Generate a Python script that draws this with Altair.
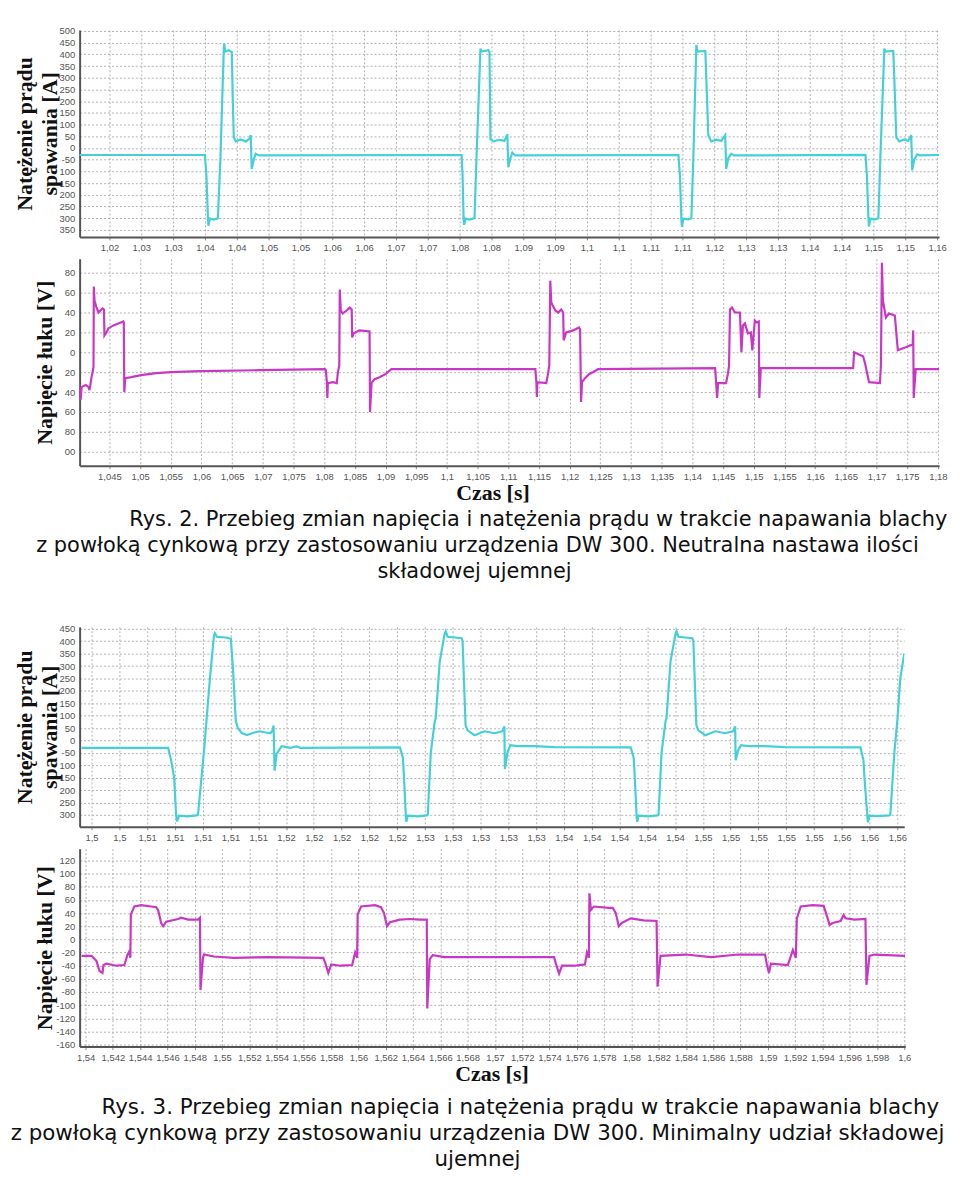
import json
import altair as alt
import pandas as pd

# ---------------- data ----------------
# Rys. 2 - welding current [A]
I1_T = [1.015156, 1.035, 1.035234, 1.035469, 1.035547, 1.035781, 1.036406, 1.037031, 1.037422, 1.037969, 1.038016, 1.038203, 1.03875, 1.039219, 1.039375, 1.039531, 1.039844, 1.040625, 1.041406, 1.042031, 1.042188, 1.042344, 1.042656, 1.042969, 1.043438,
        1.075313, 1.075469, 1.075625, 1.075703, 1.075938, 1.076563, 1.077344, 1.077656, 1.078281, 1.078438, 1.079531, 1.079688, 1.079844, 1.080313, 1.08125, 1.082031, 1.0825, 1.082656, 1.082969, 1.083281, 1.08375,
        1.109375, 1.109609, 1.109844, 1.109922, 1.110156, 1.110938, 1.111406, 1.111719, 1.112188, 1.112344, 1.113594, 1.11375, 1.114063, 1.114531, 1.115313, 1.116094, 1.116719, 1.116875, 1.117188, 1.117656, 1.118125,
        1.13875, 1.138984, 1.139219, 1.139297, 1.139531, 1.140156, 1.140781, 1.141094, 1.141719, 1.141875, 1.143125, 1.143281, 1.143594, 1.144063, 1.144844, 1.145469, 1.145938, 1.146094, 1.146406, 1.146875, 1.147344, 1.150313]
I1_V = [-30, -30, -120, -300, -332, -302, -306, -300, -50, 430, 445, 412, 418, 410, 200, 45, 28, 36, 28, 40, 55, -90, -50, -25, -32,
        -30, -120, -300, -329, -302, -306, -300, -38, 425, 412, 418, 410, 37, 28, 35, 30, 58, -82, -45, -20, -32,
        -30, -120, -310, -337, -302, -305, -300, -38, 440, 412, 415, 300, 54, 28, 35, 30, 55, -90, -45, -25, -32,
        -30, -120, -300, -335, -302, -306, -300, -38, 425, 412, 415, 300, 45, 28, 36, 30, 55, -95, -50, -27, -32, -30]

# Rys. 2 - arc voltage [V]
U1_T = [1.039984, 1.040146, 1.040308, 1.040469, 1.041117, 1.041602, 1.041764, 1.042087, 1.042249, 1.042411, 1.04246, 1.042573, 1.042896, 1.04322, 1.043544, 1.043867, 1.04411, 1.044191, 1.044515, 1.044838, 1.045647, 1.046456, 1.047265, 1.047346, 1.047427, 1.047589, 1.04856, 1.050178, 1.052605, 1.055032, 1.059887, 1.069595, 1.080113,
        1.080275, 1.080436, 1.080517, 1.080598, 1.081407, 1.082054, 1.082216, 1.082459, 1.08254, 1.082702, 1.083025, 1.083673, 1.084158, 1.084482, 1.084563, 1.084805, 1.085776, 1.087394, 1.087475, 1.087718, 1.088203, 1.089012, 1.089983, 1.090954, 1.114416,
        1.114578, 1.114659, 1.11474, 1.116196, 1.11652, 1.116682, 1.116844, 1.117005, 1.117653, 1.118138, 1.118624, 1.118947, 1.119028, 1.119433, 1.120565, 1.121536, 1.121698, 1.12186, 1.122022, 1.122507, 1.123154, 1.123801, 1.124611, 1.143704,
        1.143866, 1.144028, 1.14419, 1.145484, 1.145808, 1.14597, 1.146131, 1.146455, 1.14694, 1.147749, 1.147992, 1.148235, 1.148558, 1.149044, 1.149529, 1.149772, 1.150177, 1.1505, 1.150824, 1.150905, 1.151147, 1.166196,
        1.166358, 1.166681, 1.167814, 1.168137, 1.168785, 1.170565, 1.170726, 1.170888, 1.17105, 1.171535, 1.172021, 1.172992, 1.173477, 1.174772, 1.175904, 1.175985, 1.176066, 1.17639, 1.1802]
U1_V = [-25, -45, -48, -35, -33, -35, -38, -25, -20, -15, 66, 52, 45, 40, 42, 44, 43, 17, 20, 24, 27, 29, 31, 30, -40, -26, -25, -23, -21, -20, -19, -18, -17,
        -18, -30, -46, -31, -30, -31, -21, -13, 63, 42, 39, 42, 45, 43, 15, 19, 22, 21, -60, -31, -27, -25, -22, -17, -17,
        -30, -45, -30, -31, -20, -13, 72, 50, 42, 40, 43, 40, 12, 20, 22, 25, 23, -50, -30, -26, -22, -20, -17, -16,
        -30, -46, -31, -31, -21, -14, 43, 45, 40, 40, 0, 27, 29, 19, 20, 2, 32, 30, 31, -46, -16, -16,
        0, -1, -4, -11, -30, -31, -13, 90, 52, 35, 39, 37, 2, 5, 8, 22, -46, -17, -17]

# Rys. 3 - welding current [A]
I2_T = [1.501284, 1.507513, 1.507728, 1.507943, 1.508086, 1.508158, 1.508301, 1.508874, 1.50959, 1.509661, 1.510091, 1.51052, 1.510807, 1.510878, 1.511022, 1.511666, 1.512024, 1.512167, 1.512382, 1.512525, 1.512812, 1.51317, 1.513599, 1.5141, 1.51453, 1.514888, 1.515031, 1.515103, 1.515174, 1.515318, 1.515676, 1.51632, 1.51675, 1.517036,
        1.524196, 1.524411, 1.524482, 1.524626, 1.524661, 1.524769, 1.525485, 1.526129, 1.526201, 1.526416, 1.526702, 1.526774, 1.52706, 1.527418, 1.52749, 1.527633, 1.528635, 1.528707, 1.528922, 1.529065, 1.529566, 1.530282, 1.530998, 1.531571, 1.531714, 1.53175, 1.531929, 1.532144, 1.532645, 1.533862, 1.535294,
        1.540807, 1.541022, 1.541094, 1.541237, 1.541273, 1.54138, 1.542096, 1.54274, 1.542812, 1.543027, 1.543313, 1.543385, 1.543671, 1.54403, 1.544101, 1.544244, 1.545246, 1.545318, 1.545533, 1.545676, 1.546177, 1.546893, 1.547609, 1.548182, 1.548325, 1.548361, 1.54854, 1.548755, 1.549256, 1.550473, 1.551905,
        1.557347, 1.557562, 1.557633, 1.557848, 1.557884, 1.557991, 1.558564, 1.559423, 1.559495, 1.559781, 1.559996, 1.560211, 1.560497]
I2_V = [-30, -30, -80, -150, -300, -326, -303, -306, -302, -300, -45, 250, 420, 432, 418, 415, 410, 300, 80, 50, 30, 22, 30, 37, 32, 30, 40, 60, -122, -55, -23, -30, -24, -30,
        -28, -70, -140, -310, -328, -303, -306, -302, -300, -51, 77, 89, 318, 430, 440, 418, 412, 400, 61, 41, 21, 37, 29, 37, 57, -115, -50, -19, -23, -23, -27,
        -28, -70, -140, -310, -328, -303, -306, -302, -300, -51, 77, 89, 318, 430, 440, 418, 412, 400, 61, 41, 21, 37, 29, 37, 57, -80, -39, -19, -23, -23, -27,
        -28, -80, -150, -310, -330, -303, -305, -302, -300, -51, 77, 250, 350]

# Rys. 3 - arc voltage [V]
U2_T = [1.539708, 1.540437, 1.540802, 1.541021, 1.541239, 1.541312, 1.541531, 1.54226, 1.542843, 1.543062, 1.543208, 1.543281, 1.543317, 1.543572, 1.544082, 1.544811, 1.545176, 1.545322, 1.54554, 1.545686, 1.545905, 1.54678, 1.546998, 1.547509, 1.548238, 1.548384, 1.54842, 1.548602, 1.548675, 1.549404, 1.550862, 1.553341, 1.557423,
        1.557569, 1.557788, 1.558006, 1.558662, 1.559537, 1.559756, 1.559902, 1.559938, 1.560193, 1.561214, 1.561651, 1.56187, 1.562089, 1.562307, 1.563036, 1.563765, 1.564494, 1.565005, 1.565041, 1.565223, 1.565442, 1.566317, 1.570326, 1.574336,
        1.574482, 1.5747, 1.574919, 1.575794, 1.576596, 1.576742, 1.576887, 1.576924, 1.577033, 1.577252, 1.578345, 1.578637, 1.578856, 1.579074, 1.579293, 1.579949, 1.580897, 1.581845, 1.581918, 1.582136, 1.583959, 1.585854, 1.587822, 1.589791,
        1.589937, 1.590082, 1.590228, 1.591467, 1.591832, 1.592051, 1.592124, 1.592415, 1.59329, 1.594092, 1.594311, 1.594529, 1.594748, 1.595331, 1.59555, 1.595696, 1.596352, 1.597154, 1.597227, 1.597445, 1.59781, 1.60007]
U2_V = [-25, -25, -33, -48, -51, -39, -37, -40, -39, -24, -18, -28, 38, 50, 52, 50, 49, 44, 25, 20, 27, 31, 33, 30, 30, 33, -77, -28, -23, -26, -28, -27, -28,
        -36, -51, -38, -40, -39, -20, -28, 38, 50, 52, 49, 40, 20, 26, 30, 31, 30, 30, -105, -30, -24, -27, -27, -27,
        -38, -52, -40, -40, -38, -20, -28, 70, 45, 50, 48, 48, 40, 20, 25, 32, 29, 28, -72, -25, -23, -27, -23, -23,
        -39, -51, -37, -39, -16, -28, 32, 50, 52, 51, 37, 22, 25, 28, 37, 32, 30, 31, -69, -25, -23, -25]

# ---------------- ticks and tick labels ----------------
P1_XTICKS = [1.020, 1.025, 1.030, 1.035, 1.040, 1.045, 1.050, 1.055, 1.060, 1.065, 1.070, 1.075, 1.080, 1.085,
             1.090, 1.095, 1.100, 1.105, 1.110, 1.115, 1.120, 1.125, 1.130, 1.135, 1.140, 1.145, 1.150]
P1_XLABELS = ["1,02", "1,03", "1,03", "1,04", "1,04", "1,05", "1,05", "1,06", "1,06", "1,07", "1,07", "1,08", "1,08", "1,09",
              "1,09", "1,1", "1,1", "1,11", "1,11", "1,12", "1,13", "1,13", "1,14", "1,14", "1,15", "1,15", "1,16"]
P1_YTICKS = [500, 450, 400, 350, 300, 250, 200, 150, 100, 50, 0, -50, -100, -150, -200, -250, -300, -350]
P1_YLABELS = ["500", "450", "400", "350", "300", "250", "200", "150", "100", "50", "0", "-50", "100", "150", "200", "250", "300", "350"]

P2_XTICKS = [1.045, 1.050, 1.055, 1.060, 1.065, 1.070, 1.075, 1.080, 1.085, 1.090, 1.095, 1.100, 1.105, 1.110,
             1.115, 1.120, 1.125, 1.130, 1.135, 1.140, 1.145, 1.150, 1.155, 1.160, 1.165, 1.170, 1.175, 1.180]
P2_XLABELS = ["1,045", "1,05", "1,055", "1,06", "1,065", "1,07", "1,075", "1,08", "1,085", "1,09", "1,095", "1,1", "1,105", "1,11",
              "1,115", "1,12", "1,125", "1,13", "1,135", "1,14", "1,145", "1,15", "1,155", "1,16", "1,165", "1,17", "1,175", "1,18"]
P2_YTICKS = [80, 60, 40, 20, 0, -20, -40, -60, -80, -100]
P2_YLABELS = ["80", "60", "40", "20", "0", "20", "40", "60", "80", "00"]

P3_XTICKS = [1.502, 1.504, 1.506, 1.508, 1.510, 1.512, 1.514, 1.516, 1.518, 1.520, 1.522, 1.524, 1.526, 1.528, 1.530,
             1.532, 1.534, 1.536, 1.538, 1.540, 1.542, 1.544, 1.546, 1.548, 1.550, 1.552, 1.554, 1.556, 1.558, 1.560]
P3_XLABELS = ["1,5", "1,5", "1,51", "1,51", "1,51", "1,51", "1,51", "1,52", "1,52", "1,52", "1,52", "1,52", "1,53", "1,53", "1,53",
              "1,53", "1,53", "1,54", "1,54", "1,54", "1,54", "1,54", "1,55", "1,55", "1,55", "1,55", "1,55", "1,56", "1,56", "1,56"]
P3_YTICKS = [450, 400, 350, 300, 250, 200, 150, 100, 50, 0, -50, -100, -150, -200, -250, -300]
P3_YLABELS = ["450", "400", "350", "300", "250", "200", "150", "100", "50", "0", "-50", "100", "150", "200", "250", "300"]

P4_XTICKS = [1.540, 1.542, 1.544, 1.546, 1.548, 1.550, 1.552, 1.554, 1.556, 1.558, 1.560, 1.562, 1.564, 1.566, 1.568, 1.570,
             1.572, 1.574, 1.576, 1.578, 1.580, 1.582, 1.584, 1.586, 1.588, 1.590, 1.592, 1.594, 1.596, 1.598, 1.600]
P4_XLABELS = ["1,54", "1,542", "1,544", "1,546", "1,548", "1,55", "1,552", "1,554", "1,556", "1,558", "1,56", "1,562", "1,564", "1,566", "1,568", "1,57",
              "1,572", "1,574", "1,576", "1,578", "1,58", "1,582", "1,584", "1,586", "1,588", "1,59", "1,592", "1,594", "1,596", "1,598", "1,6"]
P4_YTICKS = [120, 100, 80, 60, 40, 20, 0, -20, -40, -60, -80, -100, -120, -140, -160]
P4_YLABELS = ["120", "100", "80", "60", "40", "20", "0", "-20", "-40", "-60", "-80", "-100", "-120", "-140", "-160"]

CAP2 = ["Rys. 2. Przebieg zmian napięcia i natężenia prądu w trakcie napawania blachy",
        "z powłoką cynkową przy zastosowaniu urządzenia DW 300. Neutralna nastawa ilości",
        "składowej ujemnej"]
CAP3 = ["Rys. 3. Przebieg zmian napięcia i natężenia prądu w trakcie napawania blachy",
        "z powłoką cynkową przy zastosowaniu urządzenia DW 300. Minimalny udział składowej",
        "ujemnej"]

# ---------------- styling ----------------
CYAN = "#44d0d8"
MAGENTA = "#c838c4"
LABEL_FONT = "Liberation Sans"
TITLE_FONT = "Liberation Serif"
CAP_FONT = "DejaVu Sans"
GRID = dict(grid=True, gridColor="#b0b0b0", gridDash=[2, 2], gridWidth=1,
            domainColor="#555555", domainWidth=2,
            labelFont=LABEL_FONT, labelFontSize=9.5, labelColor="#555555",
            labelOverlap=False, labelFlush=False)


def lbl(values, labels):
    return f"{json.dumps(labels)}[indexof({json.dumps(values)}, datum.value)]"


def panel(t, v, color, xdom, ydom, xt, xl, yt, yl, w, h, ytitle, ytx, xtitle=None, xtx=0, xty=0):
    df = pd.DataFrame({"t": t, "v": v})
    xkw = dict(GRID, values=xt, labelExpr=lbl(xt, xl), ticks=True, tickSize=3,
               tickColor="#888888", labelPadding=3)
    if xtitle:
        xkw.update(title=xtitle, titleFont=TITLE_FONT, titleFontSize=22, titleFontWeight="bold",
                   titleColor="#111111", titleX=xtx, titleY=xty, titleAlign="center",
                   titleBaseline="middle")
    else:
        xkw.update(title=None)
    ykw = dict(GRID, values=yt, labelExpr=lbl(yt, yl), ticks=False, labelPadding=5,
               title=ytitle, titleFont=TITLE_FONT, titleFontSize=22, titleFontWeight="bold",
               titleColor="#111111", titleAngle=270, titleX=ytx, titleY=h / 2,
               titleAlign="center", titleBaseline="middle", titleLineHeight=25)
    return alt.Chart(df).mark_line(color=color, strokeWidth=2.2, clip=True).encode(
        x=alt.X("t:Q", scale=alt.Scale(domain=xdom, nice=False, zero=False), axis=alt.Axis(**xkw)),
        y=alt.Y("v:Q", scale=alt.Scale(domain=ydom, nice=False, zero=False), axis=alt.Axis(**ykw)),
    ).properties(width=w, height=h)


def caption(lines, xs, ys, aligns, w, h, size):
    layers = []
    for line, x, y, a in zip(lines, xs, ys, aligns):
        layers.append(
            alt.Chart(pd.DataFrame({"txt": [line]})).mark_text(
                font=CAP_FONT, fontSize=size, color="#111111", align=a, baseline="middle"
            ).encode(x=alt.value(x), y=alt.value(y), text="txt:N")
        )
    return alt.layer(*layers).properties(width=w, height=h)


p1 = panel(I1_T, I1_V, CYAN, [1.015313, 1.150313], [-380, 504], P1_XTICKS, P1_XLABELS,
           P1_YTICKS, P1_YLABELS, 864, 208, ["Natężenie prądu", "spawania [A]"], -55)
p2 = panel(U1_T, U1_V, MAGENTA, [1.040146, 1.1802], [-114, 94], P2_XTICKS, P2_XLABELS,
           P2_YTICKS, P2_YLABELS, 864, 208, "Napięcie łuku [V]", -35,
           xtitle="Czas [s]", xtx=415, xty=27)
c2 = caption(CAP2, [50, 400, 397], [33, 59, 85], ["left", "center", "center"], 864, 118, 21)
p3 = panel(I2_T, I2_V, CYAN, [1.501141, 1.560497], [-348, 458], P3_XTICKS, P3_XLABELS,
           P3_YTICKS, P3_YLABELS, 829, 201, ["Natężenie prądu", "spawania [A]"], -55)
p4 = panel(U2_T, U2_V, MAGENTA, [1.539563, 1.60007], [-163, 138], P4_XTICKS, P4_XLABELS,
           P4_YTICKS, P4_YLABELS, 830, 199, "Napięcie łuku [V]", -35,
           xtitle="Czas [s]", xtx=414, xty=27)
c3 = caption(CAP3, [22, 400, 400], [40, 66, 92], ["left", "center", "center"], 864, 105, 21.5)

chart = alt.vconcat(p1, p2, c2, p3, p4, c3, spacing=22, bounds="flush").properties(
    padding={"left": 2, "top": 14, "right": 4, "bottom": 4}, background="white"
).configure_view(stroke=None)

chart.save("out.html", embed_options={"renderer": "svg", "actions": False})
